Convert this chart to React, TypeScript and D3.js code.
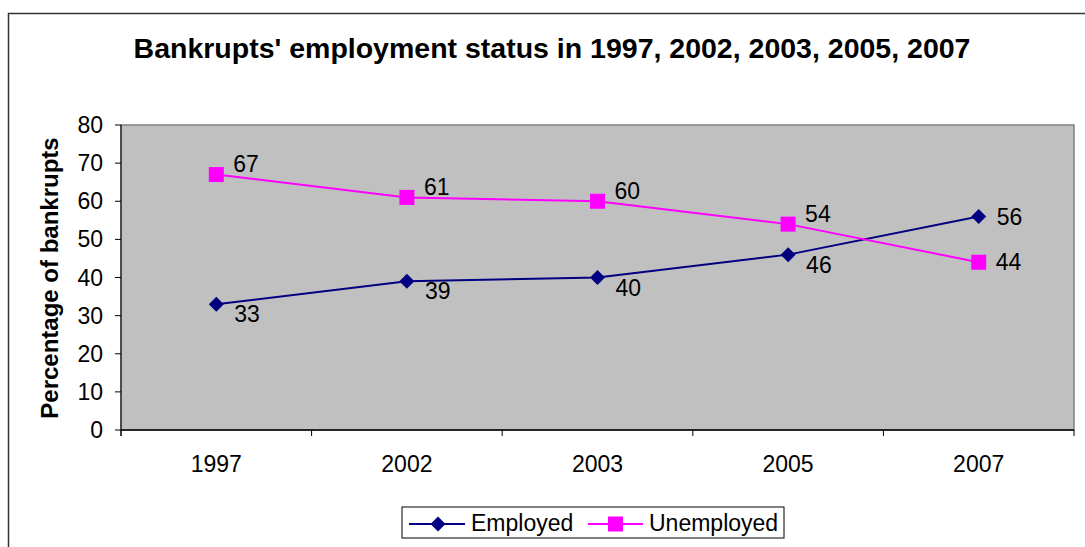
import React from "react";
import * as d3 from "d3";

const categories = ["1997", "2002", "2003", "2005", "2007"];
const employed = [33, 39, 40, 46, 56];
const unemployed = [67, 61, 60, 54, 44];
const yTicks = [0, 10, 20, 30, 40, 50, 60, 70, 80];

const W = 1085;
const H = 547;
const plot = { left: 121, top: 125, right: 1074, bottom: 430 };
const font = "Liberation Sans, Arial, sans-serif";

export default function App() {
  const x = d3.scaleBand().domain(categories).range([plot.left, plot.right]);
  const y = d3.scaleLinear().domain([0, 80]).range([plot.bottom, plot.top]);
  const cx = (c: string) => (x(c) as number) + x.bandwidth() / 2;
  const line = d3
    .line<number>()
    .x((_, i) => cx(categories[i]))
    .y((d) => y(d));
  const boundaries = categories.map((c) => x(c) as number).concat([plot.right]);
  const diamond = (px: number, py: number, r: number) =>
    `M${px},${py - r}L${px + r},${py}L${px},${py + r}L${px - r},${py}Z`;
  const last = categories.length - 1;

  return (
    <svg
      width={W}
      height={H}
      style={{ position: "absolute", left: 0, top: 0, fontFamily: font }}
    >
      <rect x={0} y={0} width={W} height={H} fill="#fff" />
      <rect x={8.5} y={13.5} width={W + 10} height={H + 10} fill="none" stroke="#333" strokeWidth={1.5} />
      <text x={552} y={58} textAnchor="middle" fontSize={28.5} fontWeight="bold" fill="#000">
        Bankrupts' employment status in 1997, 2002, 2003, 2005, 2007
      </text>
      <rect
        x={plot.left}
        y={plot.top}
        width={plot.right - plot.left}
        height={plot.bottom - plot.top}
        fill="#c0c0c0"
        stroke="#808080"
        strokeWidth={1.5}
      />
      <line x1={plot.left} x2={plot.left} y1={plot.top} y2={plot.bottom + 6} stroke="#000" strokeWidth={1} />
      <line x1={plot.left} x2={plot.right} y1={plot.bottom} y2={plot.bottom} stroke="#000" strokeWidth={1.5} />
      {yTicks.map((t) => (
        <g key={t}>
          <line x1={plot.left - 6} x2={plot.left} y1={y(t)} y2={y(t)} stroke="#000" />
          <text x={103} y={y(t) + 8} textAnchor="end" fontSize={23} fill="#000">
            {t}
          </text>
        </g>
      ))}
      {boundaries.map((b, i) => (
        <line key={i} x1={b} x2={b} y1={plot.bottom} y2={plot.bottom + 6} stroke="#000" />
      ))}
      {categories.map((c) => (
        <text key={c} x={cx(c)} y={472} textAnchor="middle" fontSize={23} fill="#000">
          {c}
        </text>
      ))}
      <text
        transform={`translate(58, 278) rotate(-90)`}
        textAnchor="middle"
        fontSize={24}
        fontWeight="bold"
        fill="#000"
      >
        Percentage of bankrupts
      </text>
      <path d={line(employed) || ""} fill="none" stroke="#000080" strokeWidth={2} />
      <path d={line(unemployed) || ""} fill="none" stroke="#ff00ff" strokeWidth={2} />
      {employed.map((v, i) => (
        <g key={"e" + i}>
          <path d={diamond(cx(categories[i]), y(v), 7.5)} fill="#000080" />
          <text
            x={cx(categories[i]) + 18}
            y={y(v) + (i === last ? 8.5 : 18)}
            fontSize={23}
            fill="#000"
          >
            {v}
          </text>
        </g>
      ))}
      {unemployed.map((v, i) => (
        <g key={"u" + i}>
          <rect x={cx(categories[i]) - 7.5} y={y(v) - 7.5} width={15} height={15} fill="#ff00ff" />
          <text
            x={cx(categories[i]) + 17}
            y={y(v) + (i === last ? 8 : -2.5)}
            fontSize={23}
            fill="#000"
          >
            {v}
          </text>
        </g>
      ))}
      <g>
        <rect x={402} y={507} width={382} height={31} fill="#fff" stroke="#000" strokeWidth={1} />
        <line x1={409} x2={465} y1={524} y2={524} stroke="#000080" strokeWidth={2} />
        <path d={diamond(438, 524, 7.5)} fill="#000080" />
        <text x={471} y={531} fontSize={23} fill="#000">Employed</text>
        <line x1={588} x2={643} y1={524} y2={524} stroke="#ff00ff" strokeWidth={2} />
        <rect x={608} y={516.5} width={15} height={15} fill="#ff00ff" />
        <text x={649} y={531} fontSize={23} fill="#000">Unemployed</text>
      </g>
    </svg>
  );
}
